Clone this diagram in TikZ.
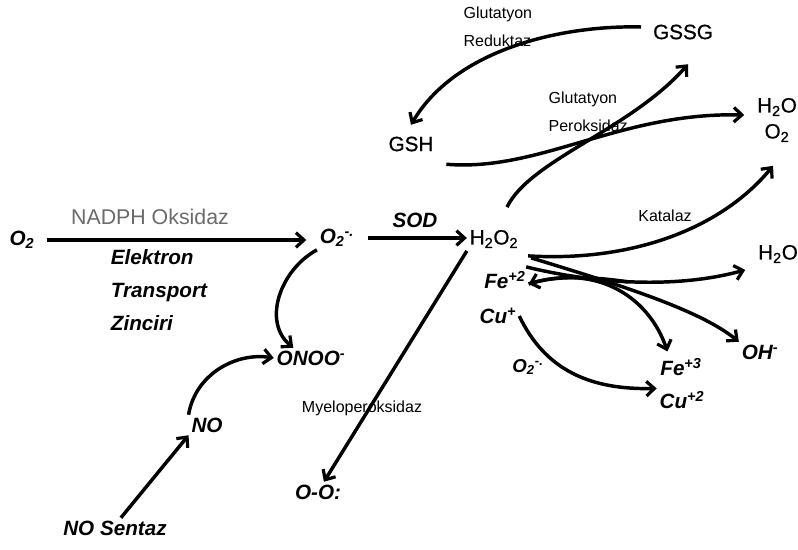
\documentclass[tikz,border=0pt]{standalone}
\usepackage{fontspec}
\setmainfont{Liberation Sans}
\newfontfamily\formulafont{Liberation Sans}[FakeBold=0.8]
\usetikzlibrary{arrows.meta}
\definecolor{enzymegray}{gray}{0.42}
\tikzstyle{species} = [
    font=\fontsize{15.5}{18}\selectfont\bfseries\itshape,
    inner sep=2pt
]
\tikzstyle{formula} = [
    font=\fontsize{15.5}{18}\selectfont\formulafont,
    inner sep=2pt
]
\tikzstyle{enzyme} = [
    font=\fontsize{12}{21}\selectfont,
    inner sep=1pt
]
\tikzstyle{arrow} = [line width=2.6pt,-{Straight Barb[length=6pt,width=11pt,line width=2.4pt]}]

\begin{document}
\begin{tikzpicture}[x=0.75pt,y=-0.75pt]
\useasboundingbox (0,0) rectangle (798,549);

\node (o2) [species] at (22,240) {O\textsubscript{2}};
\node (nadph) [enzyme, text=enzymegray, font=\fontsize{16}{18}\selectfont] at (150,217) {NADPH Oksidaz};
\node (etz) [species, align=left, anchor=west, font=\fontsize{15.5}{24.75}\selectfont\bfseries\itshape] at (108,290)
{Elektron\\Transport\\Zinciri};
\node (sup) [species] at (337,238) {O\textsubscript{2}\textsuperscript{-.}};
\node (sod) [species] at (415,220) {SOD};
\node (h2o2) [formula] at (494,239) {H\textsubscript{2}O\textsubscript{2}};

\node (onoo) [species] at (311,358) {ONOO\textsuperscript{-}};
\node (no) [species] at (207,425) {NO};
\node (nos) [species] at (115,528) {NO Sentaz};
\node (myelo) [enzyme] at (362,408) {Myeloperoksidaz};
\node (oo) [species] at (318,492) {O-O:};

\node (gsh) [formula] at (411,144) {GSH};
\node (gssg) [formula] at (683,32) {GSSG};
\node (glured) [enzyme, align=left, anchor=west] at (462,27) {Glutatyon\\Reduktaz};
\node (gluper) [enzyme, align=left, anchor=west] at (547,112) {Glutatyon\\Peroksidaz};
\node (h2oo2) [formula, align=center, font=\fontsize{15.5}{19.5}\selectfont\formulafont] at (777,120) {H\textsubscript{2}O\\O\textsubscript{2}};
\node (katalaz) [enzyme] at (665,216) {Katalaz};
\node (h2o) [formula] at (778,254) {H\textsubscript{2}O};
\node (oh) [species] at (760,352) {OH\textsuperscript{-}};

\node (fe2) [species] at (505,280) {Fe\textsuperscript{+2}};
\node (cu1) [species] at (498,316) {Cu\textsuperscript{+}};
\node (fe3) [species] at (681,367) {Fe\textsuperscript{+3}};
\node (cu2) [species] at (682,400) {Cu\textsuperscript{+2}};
\node (sup2) [species, font=\fontsize{14}{16}\selectfont\bfseries\itshape] at (528,367) {O\textsubscript{2}\textsuperscript{-.}};

% superoxide branch
\draw [arrow, shorten <=7pt, shorten >=8pt] (o2.east) -- (o2.east -| sup.west);
\draw [arrow, shorten <=8pt] (sup.east) -- (sup.east -| h2o2.west);
\draw [arrow] (sup.south west) .. controls (280,270) and (262,322) .. (onoo.150);
\draw [arrow] (no.north west) .. controls (195,375) and (235,352) .. (onoo.west);
\draw [arrow] (nos.60) -- (no.south west);
\draw [arrow] (h2o2.south west) -- (oo.60);

% glutathione cycle
\draw [arrow] ([shift={(-9,-5)}]gssg.west) .. controls (560,25) and (455,50) .. ([shift={(0,-9)}]gsh.north);
\draw [arrow] ([shift={(10,10)}]gsh.south east) .. controls (540,172) and (620,112) .. ([shift={(-10,-5)}]h2oo2.west);
\draw [arrow] ([shift={(13,-20)}]h2o2.north) .. controls (530,160) and (630,130) .. ([shift={(5,22)}]gssg.south);

% catalase and Fenton
\draw [arrow] ([shift={(7,5)}]h2o2.south east) .. controls (630,262) and (720,230) .. ([shift={(-4,21)}]h2oo2.south);
\draw [arrow] ([shift={(5,16)}]h2o2.south east) .. controls (600,285) and (680,288) .. ([shift={(-10,4)}]h2o.south west);
\draw [arrow] ([shift={(10,7)}]h2o2.south east) .. controls (620,285) and (700,310) .. (oh.north west);
\draw [arrow] ([shift={(100,2)}]fe2.east) .. controls (590,276) and (555,276) .. ([shift={(0,4)}]fe2.east);
\draw [arrow] ([shift={(0,4)}]fe2.east) .. controls (600,262) and (650,300) .. ([shift={(10,-4)}]fe3.north west);
\draw [arrow] (cu1.east) .. controls (545,370) and (590,390) .. (cu2.north west);

\end{tikzpicture}
\end{document}
